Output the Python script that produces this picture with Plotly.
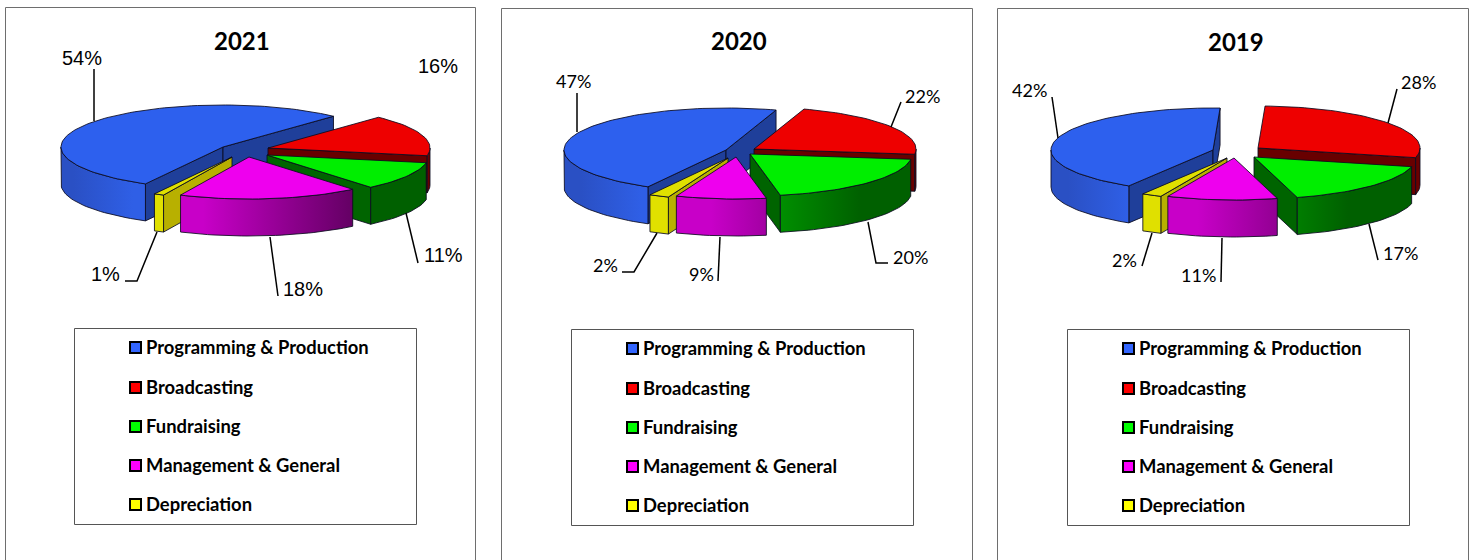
import math
import plotly.graph_objects as go

# ---- data ----
categories = ["Programming & Production", "Broadcasting", "Fundraising", "Management & General", "Depreciation"]
years = ["2021", "2020", "2019"]
values_2021 = [54, 16, 11, 18, 1]
values_2020 = [47, 22, 20, 9, 2]
values_2019 = [42, 28, 17, 11, 2]
values_by_year = [values_2021, values_2020, values_2019]

# ---- layout / style (page pixels) ----
W, H = 1475, 560
RX, RY, DEPTH = 162, 42, 37
legend_colors = ["#3366ff", "#ff0000", "#00ff00", "#ff00ff", "#ffff00"]
top_colors = ["#2d60ee", "#ee0000", "#00ee00", "#ee00ee", "#e0e000"]
wall_colors = ["#1f3f9a", "#680000", "#006400", "#800080", "#b8b000"]
draw_order = [0, 1, 2, 4, 3]
OUTLINE = "rgba(10,10,30,0.85)"

panels = [
    dict(frame=(5.5, 7.5, 475.5), title=(242, 40), box=(74.5, 328.5, 416.5, 524.5), first=43, cx=243, font="Liberation Sans", lsize=20,
         apex=[(223, 147), (268, 148), (267, 155), (249, 157), (232, 157)],
         label_at=[(82, 58), (438, 66), (443, 255), (303, 289), (105, 274)],
         leaders=[[(94, 69), (94, 121)], [], [(406, 213), (418, 263)], [(270, 237), (278, 296)],
                  [(157, 232), (137, 281), (125, 281)]]),
    dict(frame=(501.5, 8.5, 972.5), title=(739, 40), box=(571.5, 329.5, 913.5, 525.5), first=18, cx=751, font="Lato", lsize=18,
         apex=[(726, 150), (754, 149), (750, 154), (736, 157), (728, 158)],
         label_at=[(573, 81), (922, 96), (910, 257), (701, 274), (605, 265)],
         leaders=[[(577, 93), (577, 132)], [(901, 102), (891, 127)], [(868, 222), (876, 263), (888, 263)],
                  [(720, 237), (718, 281)], [(657, 233), (634, 272), (622, 272)]]),
    dict(frame=(997.5, 8.5, 1468.5), title=(1236, 41), box=(1067.5, 329.5, 1409.5, 525.5), first=2.5, cx=1238, font="Lato", lsize=18,
         apex=[(1213, 150), (1258, 148), (1254, 157), (1234, 158), (1227, 158)],
         label_at=[(1029, 90), (1418, 82), (1400, 253), (1198, 275), (1124, 260)],
         leaders=[[(1052, 97), (1058, 138)], [(1397, 89), (1388, 123)], [(1369, 224), (1378, 260)],
                  [(1222, 238), (1221, 282)], [(1152, 233), (1142, 266)]]),
]
legend_row_offsets = [19, 59, 98, 137, 176]
# outer-wall gradient per category: colours and extent relative to pie centre
wall_ramps = [
    ("#2a50c4", "#2f5fe6", -170, -110),
    ("#6a0000", "#6a0000", 0, 200),
    ("#009400", "#006000", 20, 110),
    ("#c800c8", "#600060", -40, 115),
    ("#e0e000", "#e0e000", -100, 0),
]


def rim(apex, deg):
    a = math.radians(deg)
    return apex[0] + RX * math.sin(a), apex[1] - RY * math.cos(a)


def poly(fig, pts, color=None, grad=None):
    xs = [p[0] for p in pts] + [pts[0][0]]
    ys = [p[1] for p in pts] + [pts[0][1]]
    kw = dict(fillgradient=grad) if grad else dict(fillcolor=color)
    fig.add_trace(go.Scatter(x=xs, y=ys, mode="lines", fill="toself", line=dict(color=OUTLINE, width=1),
                             hoverinfo="skip", showlegend=False, **kw))


def arc(apex, a0, a1):
    n = max(2, int(abs(a1 - a0) / 2) + 1)
    return [rim(apex, a0 + (a1 - a0) * i / (n - 1)) for i in range(n)]


fig = go.Figure()

for panel, year, values in zip(panels, years, values_by_year):
    total = sum(values)
    # slices run clockwise from the first one's end edge; Programming closes the circle
    edges = {}
    ang = panel["first"]
    for i in [1, 2, 3, 4]:
        edges[i] = (ang, ang + values[i] / total * 360)
        ang = edges[i][1]
    edges[0] = (ang, panel["first"] + 360)

    for i in draw_order:
        a0, a1 = edges[i]
        apex = panel["apex"][i]
        drop = lambda p: (p[0], p[1] + DEPTH)
        # radial walls that face the viewer
        if math.sin(math.radians(a0)) < 0:
            p = rim(apex, a0)
            poly(fig, [apex, p, drop(p), drop(apex)], color=wall_colors[i])
        if math.sin(math.radians(a1)) > 0:
            p = rim(apex, a1)
            poly(fig, [apex, p, drop(p), drop(apex)], color=wall_colors[i])
        # outer wall on the front half of the rim
        f0, f1 = max(a0, 90), min(a1, 270)
        if f1 > f0:
            top = arc(apex, f0, f1)
            c0, c1, s0, s1 = wall_ramps[i]
            grad = dict(type="horizontal", colorscale=[[0, c0], [1, c1]],
                        start=panel["cx"] + s0, stop=panel["cx"] + s1)
            poly(fig, top + [drop(p) for p in reversed(top)], grad=grad)
        # top face
        poly(fig, [apex] + arc(apex, a0, a1), color=top_colors[i])

    # leader lines
    for line in panel["leaders"]:
        if line:
            fig.add_trace(go.Scatter(x=[p[0] for p in line], y=[p[1] for p in line], mode="lines",
                                     line=dict(color="#000000", width=1.5), hoverinfo="skip", showlegend=False))
    # percentage labels
    for v, (lx, ly) in zip(values, panel["label_at"]):
        fig.add_annotation(x=lx, y=ly, text=f"{v}%", showarrow=False, xanchor="center", yanchor="middle",
                           font=dict(family=panel["font"], size=panel["lsize"], color="#000000"))
    # title
    fig.add_annotation(x=panel["title"][0], y=panel["title"][1], text=f"<b>{year}</b>", showarrow=False,
                       font=dict(family="Lato", size=24, color="#000000"))
    # frame, open at the page bottom
    fl, ft, fr = panel["frame"]
    fig.add_shape(type="path", path=f"M{fl},{H} L{fl},{ft} L{fr},{ft} L{fr},{H}",
                  line=dict(color="#6e6e6e", width=1))
    # legend box
    bl, bt, br, bb = panel["box"]
    fig.add_shape(type="rect", x0=bl, y0=bt, x1=br, y1=bb, line=dict(color="#555555", width=1))
    rows = [bt + o for o in legend_row_offsets]
    fig.add_trace(go.Scatter(x=[bl + 61] * 5, y=rows, mode="markers", hoverinfo="skip", showlegend=False,
                             marker=dict(symbol="square", size=11, color=legend_colors,
                                         line=dict(color="#000000", width=2))))
    for name, ry in zip(categories, rows):
        fig.add_annotation(x=bl + 69, y=ry - 1, text=f"<b>{name}</b>", showarrow=False, xanchor="left", yanchor="middle",
                           font=dict(family="Lato", size=18.4, color="#000000"))

fig.update_layout(
    width=W, height=H, margin=dict(l=0, r=0, t=0, b=0), paper_bgcolor="#ffffff", plot_bgcolor="#ffffff",
    showlegend=False, hovermode=False,
    xaxis=dict(range=[0, W], visible=False, fixedrange=True),
    yaxis=dict(range=[H, 0], visible=False, fixedrange=True),
)
fig.write_html("out.html", config=dict(displayModeBar=False),
               post_script="document.body.style.margin='0';document.body.style.overflow='hidden';")
